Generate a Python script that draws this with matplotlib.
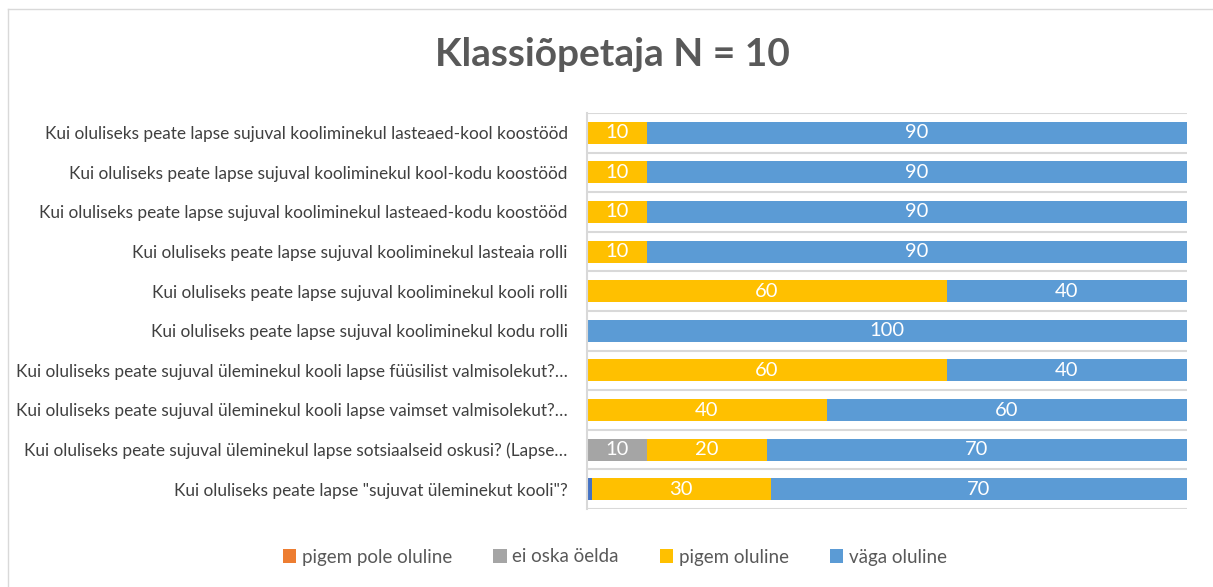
import matplotlib
matplotlib.use('Agg')
import matplotlib.pyplot as plt
import numpy as np
from matplotlib.lines import Line2D

plt.rcParams['font.family'] = ['Lato', 'DejaVu Sans']

# categories top to bottom
categories = [
    'Kui oluliseks peate lapse sujuval kooliminekul lasteaed-kool koostööd',
    'Kui oluliseks peate lapse sujuval kooliminekul kool-kodu koostööd',
    'Kui oluliseks peate lapse sujuval kooliminekul lasteaed-kodu koostööd',
    'Kui oluliseks peate lapse sujuval kooliminekul lasteaia rolli',
    'Kui oluliseks peate lapse sujuval kooliminekul kooli rolli',
    'Kui oluliseks peate lapse sujuval kooliminekul kodu rolli',
    'Kui oluliseks peate sujuval üleminekul kooli lapse füüsilist valmisolekut?…',
    'Kui oluliseks peate sujuval üleminekul kooli lapse vaimset valmisolekut?…',
    'Kui oluliseks peate sujuval üleminekul lapse sotsiaalseid oskusi? (Lapse…',
    'Kui oluliseks peate lapse "sujuvat üleminekut kooli"?',
]
ei_ole = [0, 0, 0, 0, 0, 0, 0, 0, 0, 0.8]          # small unlabeled sliver
pigem_pole = [0, 0, 0, 0, 0, 0, 0, 0, 0, 0]
ei_oska = [0, 0, 0, 0, 0, 0, 0, 0, 10, 0]
pigem_oluline = [10, 10, 10, 10, 60, 0, 60, 40, 20, 29.8]
vaga_oluline = [90, 90, 90, 90, 40, 100, 40, 60, 70, 69.4]

series = [
    (None, ei_ole, '#4472C4'),
    ('pigem pole oluline', pigem_pole, '#ED7D31'),
    ('ei oska öelda', ei_oska, '#A5A5A5'),
    ('pigem oluline', pigem_oluline, '#FFC000'),
    ('väga oluline', vaga_oluline, '#5B9BD5'),
]

fig = plt.figure(figsize=(12.13, 5.87), dpi=100)
# chart frame: only top and left edges are visible in the crop
top = 1 - 8.5 / 587
lx = 7.5 / 1213
fig.lines.append(Line2D([lx, 1.0], [top, top], transform=fig.transFigure,
                        color='#D9D9D9', lw=1))
fig.lines.append(Line2D([lx, lx], [0, top], transform=fig.transFigure,
                        color='#D9D9D9', lw=1))

ax = fig.add_axes([587 / 1213, 1 - 509 / 587, 600 / 1213, 396 / 587])

y = np.arange(len(categories))
left = np.zeros(len(categories))
for name, vals, color in series:
    vals = np.array(vals, dtype=float)
    bars = ax.barh(y, vals, left=left, height=0.56, color=color,
                   label=name if name else '_nolegend_')
    if name:
        labels = ['%d' % round(v, -1) if v > 0 else '' for v in vals]
        ax.bar_label(bars, labels=labels, label_type='center', color='white',
                     fontsize=14.5)
    left += vals

ax.set_xlim(0, 100)
ax.set_ylim(len(categories) - 0.5, -0.5)
ax.set_yticks(y)
ax.set_yticklabels(categories, fontsize=12.4, color='#404040')
ax.set_yticks(np.arange(len(categories) + 1) - 0.5, minor=True)
ax.tick_params(axis='y', which='both', length=0, pad=14)
ax.tick_params(axis='x', length=0, labelbottom=False)
ax.grid(axis='y', which='minor', color='#D9D9D9', lw=1.5)
ax.set_axisbelow(True)
for s in ['top', 'right', 'bottom']:
    ax.spines[s].set_visible(False)
ax.spines['left'].set_color('#D9D9D9')
ax.spines['left'].set_linewidth(1.5)

fig.text(612 / 1213, 1 - 55 / 587, 'Klassiõpetaja N = 10', ha='center',
         va='center', fontsize=28, fontweight='bold', color='#595959')

handles, labs = ax.get_legend_handles_labels()
fig.legend(handles, labs, loc='center', bbox_to_anchor=(615 / 1213, 1 - 557 / 587),
           ncol=4, frameon=False, fontsize=13.5, handlelength=0.7, handleheight=0.7,
           handletextpad=0.3, columnspacing=2.2, labelcolor='#595959')

fig.savefig('out.png', dpi=100)
plt.close(fig)
